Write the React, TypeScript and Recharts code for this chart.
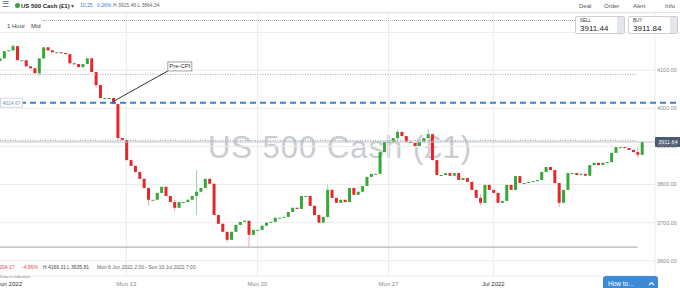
import React from "react";
import { ComposedChart, Bar, XAxis, YAxis, CartesianGrid, ReferenceLine, ReferenceDot } from "recharts";

// 4-hour candles, trading hours counted from Mon 6 Jun 00:00 (weekends squeezed out)
const startHour = 4;
const stepHours = 4;
const firstOpen = 4124;
const closes = [
  4131, 4150, 4152, 4163, 4126, 4126, 4110, 4105, 4092, 4131,
  4160, 4152, 4147, 4147, 4145, 4142, 4118, 4116, 4108, 4116,
  4131, 4095, 4061, 4027, 4027, 4027, 4011, 3922, 3917, 3864,
  3849, 3833, 3815, 3791, 3760, 3760, 3778, 3794, 3770, 3754,
  3739, 3754, 3754, 3760, 3770, 3781, 3791, 3815, 3802, 3720,
  3697, 3676, 3655, 3676, 3694, 3702, 3705, 3668, 3681, 3681,
  3692, 3700, 3702, 3713, 3713, 3715, 3728, 3739, 3736, 3770,
  3770, 3744, 3720, 3700, 3715, 3786, 3765, 3752, 3760, 3754,
  3791, 3773, 3781, 3796, 3820, 3828, 3828, 3885, 3912, 3912,
  3922, 3938, 3927, 3912, 3909, 3901, 3912, 3922, 3932, 3864,
  3825, 3825, 3830, 3823, 3830, 3812, 3817, 3807, 3786, 3765,
  3752, 3799, 3786, 3778, 3752, 3757, 3799, 3786, 3822, 3804,
  3804, 3807, 3809, 3812, 3833, 3846, 3838, 3804, 3752, 3786,
  3830, 3830, 3825, 3828, 3823, 3851, 3857, 3851, 3857, 3859,
  3883, 3898, 3898, 3896, 3891, 3885, 3878, 3911.64,
];
// notable wicks: [candle index, high, low]
const wicks: [number, number, number][] = [
  [3, 4169, 4150], [9, 4131, 4085], [22, 4095, 4055], [27, 3945, 3915],
  [34, 3790, 3745], [40, 3760, 3730], [45, 3838, 3720], [52, 3676, 3648],
  [57, 3700, 3636], [75, 3800, 3712], [91, 3945, 3915], [98, 3946, 3925],
  [110, 3775, 3745], [128, 3800, 3741], [146, 3898, 3870], [147, 3915, 3876],
];

const xTicks = [0, 120, 240, 360, 456];
const xTickLabels = ["Jun 2022", "Mon 13", "Mon 20", "Mon 27", "Jul 2022"];
const yTicks = [3600, 3700, 3800, 3900, 4000, 4100];

const lastPrice = 3911.64;
const preCpiLevel = 4014.67;
const periodLow = 3635.81;
const dayHigh = 3915.46;
const upperLevel = 4089;

const UP = "#36a83a";
const DOWN = "#e5262b";

const data = closes.map((c, i) => {
  const o = i === 0 ? firstOpen : closes[i - 1];
  const w = wicks.find((k) => k[0] === i);
  const high = Math.max(o, c, w ? w[1] : -Infinity);
  const low = Math.min(o, c, w ? w[2] : Infinity);
  return { h: startHour + i * stepHours, open: o, close: c, high, low, range: [low, high] };
});

const Candle = (props: any) => {
  const { x, y, width, height, payload } = props;
  if (x == null || !payload) return null;
  const { open, close, high, low } = payload;
  const up = close >= open;
  const k = high - low > 0 ? height / (high - low) : 0;
  const yo = y + (high - open) * k;
  const yc = y + (high - close) * k;
  const cx = x + width / 2;
  return (
    <g>
      <line x1={cx} x2={cx} y1={y} y2={y + height} stroke={up ? "#9bd59c" : "#f2a3a5"} strokeWidth={1} />
      <rect x={x} y={Math.min(yo, yc)} width={width} height={Math.max(1, Math.abs(yo - yc))} fill={up ? UP : DOWN} />
    </g>
  );
};

const XTick = (props: any) => {
  const { x, y, payload } = props;
  const i = xTicks.indexOf(payload.value);
  const first = i === 0;
  const strong = xTickLabels[i]?.includes("2022");
  return (
    <text x={first ? x + 2 : x} y={y} dy="0.71em" textAnchor={first ? "start" : "middle"} fontSize={6} fill={strong ? "#333" : "#8a8a8a"}>
      {xTickLabels[i]}
    </text>
  );
};

const T = ({ x, y, s, c = "#444", w = 400, children }: any) => (
  <span style={{ position: "absolute", left: x, top: y, fontSize: s, color: c, fontWeight: w, lineHeight: 1, whiteSpace: "nowrap" }}>
    {children}
  </span>
);

export default function App() {
  return (
    <div style={{ position: "absolute", left: 0, top: 0, width: 680, height: 288, overflow: "hidden", background: "#fff", fontFamily: "'Liberation Sans', Arial, sans-serif" }}>
      <div style={{ position: "absolute", left: 0, width: 680, top: 132, textAlign: "center", fontSize: 31, lineHeight: 1, letterSpacing: 1, color: "#c9ccd1" }}>
        US 500 Cash (£1)
      </div>

      <div style={{ position: "absolute", left: -20, top: 0 }}>
        <ComposedChart width={720} height={288} data={data} margin={{ top: 13, right: 15, left: 0, bottom: 0 }} style={{ fontFamily: "'Liberation Sans', Arial, sans-serif" }}>
          <CartesianGrid stroke="#ececec" />
          <XAxis type="number" dataKey="h" domain={[-14, 604]} ticks={xTicks} interval={0} allowDataOverflow axisLine={false} tickLine={false} tickSize={0} tickMargin={6} height={12} tick={<XTick />} />
          <YAxis orientation="right" domain={[3560, 4250]} ticks={yTicks} allowDataOverflow axisLine={false} tickLine={false} tickSize={0} tickMargin={2} width={30}
            tick={{ fontSize: 5.5, fill: "#8a8a8a" }} tickFormatter={(v: number) => v.toFixed(2)} />
          <ReferenceLine segment={[{ x: -14, y: upperLevel }, { x: 588, y: upperLevel }]} stroke="#a8a8a8" strokeDasharray="1 1.5" />
          <ReferenceLine segment={[{ x: -14, y: dayHigh }, { x: 588, y: dayHigh }]} stroke="#a8a8a8" strokeDasharray="1 1.5" />
          <ReferenceLine segment={[{ x: -14, y: periodLow }, { x: 588, y: periodLow }]} stroke="#a0a0a0" />
          <ReferenceLine y={lastPrice} stroke="#bcc2ca"
            label={(p: any) => (
              <g>
                <rect x={p.viewBox.x + p.viewBox.width} y={p.viewBox.y - 5} width={26} height={10} rx={1} fill="#4b5a70" />
                <text x={p.viewBox.x + p.viewBox.width + 13} y={p.viewBox.y + 2} textAnchor="middle" fontSize={5.5} fill="#fff">{lastPrice.toFixed(2)}</text>
              </g>
            )} />
          <ReferenceLine segment={[{ x: -14, y: preCpiLevel }, { x: 630, y: preCpiLevel }]} ifOverflow="visible" stroke="#3f7fc4" strokeWidth={2} strokeDasharray="6 4"
            label={(p: any) => (
              <g>
                <rect x={p.viewBox.x + 20.5} y={p.viewBox.y - 4.5} width={22} height={9} fill="#fff" stroke="#c5d3e3" strokeWidth={0.8} />
                <text x={p.viewBox.x + 31.5} y={p.viewBox.y + 2} textAnchor="middle" fontSize={5} fill="#6f8fb5">{preCpiLevel.toFixed(2)}</text>
              </g>
            )} />
          <Bar dataKey="range" barSize={3} shape={<Candle />} isAnimationActive={false} />
          <ReferenceLine segment={[{ x: 108, y: 4018 }, { x: 158, y: 4098 }]} stroke="#333" strokeWidth={1} />
          <ReferenceDot x={158} y={4098} r={0}
            shape={(p: any) => (
              <g>
                <rect x={p.cx} y={p.cy - 9} width={24} height={9} fill="#fff" stroke="#888" strokeWidth={0.8} />
                <text x={p.cx + 12} y={p.cy - 2.5} textAnchor="middle" fontSize={6} fill="#333">Pre-CPI</text>
              </g>
            )} />
        </ComposedChart>
      </div>

      {/* header */}
      <div style={{ position: "absolute", left: 0, top: 0, width: 680, height: 12, background: "#fff" }} />
      <div style={{ position: "absolute", left: 0, top: 12, width: 680, height: 1, background: "#e6e6e6" }} />
      <T x={2} y={1} s={8} c="#666">☰</T>
      <div style={{ position: "absolute", left: 15, top: 3, width: 5, height: 5, borderRadius: 3, background: "#28a745" }} />
      <T x={21} y={2.5} s={6} c="#222" w={600}>US 500 Cash (£1)</T>
      <T x={71} y={2.5} s={6} c="#555">▾</T>
      <T x={80} y={3} s={5} c="#3a7dd8">10.25</T>
      <T x={97} y={3} s={5} c="#3a7dd8">0.26%</T>
      <T x={113} y={3} s={5} c="#666">H 3915.46 L 3864.34</T>
      <T x={579} y={2.5} s={6} c="#555">Deal</T>
      <T x={604} y={2.5} s={6} c="#555">Order</T>
      <T x={633} y={2.5} s={6} c="#555">Alert</T>
      <T x={665} y={2.5} s={6} c="#555">Info</T>
      <div style={{ position: "absolute", left: 43, top: 20, width: 532, borderTop: "1px dotted #aaa" }} />
      <div style={{ position: "absolute", left: 0, top: 32, width: 680, height: 1, background: "#eeeeee" }} />
      <T x={7} y={22.5} s={6} c="#444">1 Hour</T>
      <T x={31} y={22.5} s={6} c="#444">Mid</T>
      {[{ l: 575, k: "SELL", v: "3911.44" }, { l: 628, k: "BUY", v: "3911.84" }].map((b) => (
        <div key={b.k} style={{ position: "absolute", left: b.l, top: 16, width: 50, height: 18, border: "1px solid #cfcfcf", borderRadius: 2, background: "#fff", boxSizing: "border-box", overflow: "hidden" }}>
          <div style={{ position: "absolute", right: 0, top: 0, width: 7, height: 18, background: "#e3e7eb" }} />
          <span style={{ position: "absolute", left: 4, top: 2, fontSize: 4.5, color: "#333", lineHeight: 1 }}>{b.k}</span>
          <span style={{ position: "absolute", left: 4, top: 8, fontSize: 8, color: "#222", lineHeight: 1 }}>{b.v}</span>
        </div>
      ))}

      {/* footer */}
      <T x={-2.5} y={265} s={5} c="#e0474c">-204.17</T>
      <T x={22} y={265} s={5} c="#e0474c">-4.96%</T>
      <T x={43} y={265} s={5} c="#444">H 4169.31</T>
      <T x={67} y={265} s={5} c="#444">L 3635.81</T>
      <T x={97} y={265} s={5} c="#666">Mon 6 Jun 2022 2:00 - Sun 10 Jul 2022 7:00</T>
      <T x={0} y={274.5} s={4} c="#888">Data is indicative</T>
      <div style={{ position: "absolute", left: 603, top: 276, width: 55, height: 16, borderRadius: 3, background: "#3b8ad6" }}>
        <span style={{ position: "absolute", left: 5, top: 5, fontSize: 6.5, color: "#fff", lineHeight: 1 }}>How to...</span>
        <svg style={{ position: "absolute", left: 45, top: 5 }} width={7} height={5}>
          <polyline points="1,4 3.5,1.5 6,4" fill="none" stroke="#fff" strokeWidth={1.2} />
        </svg>
      </div>
    </div>
  );
}
